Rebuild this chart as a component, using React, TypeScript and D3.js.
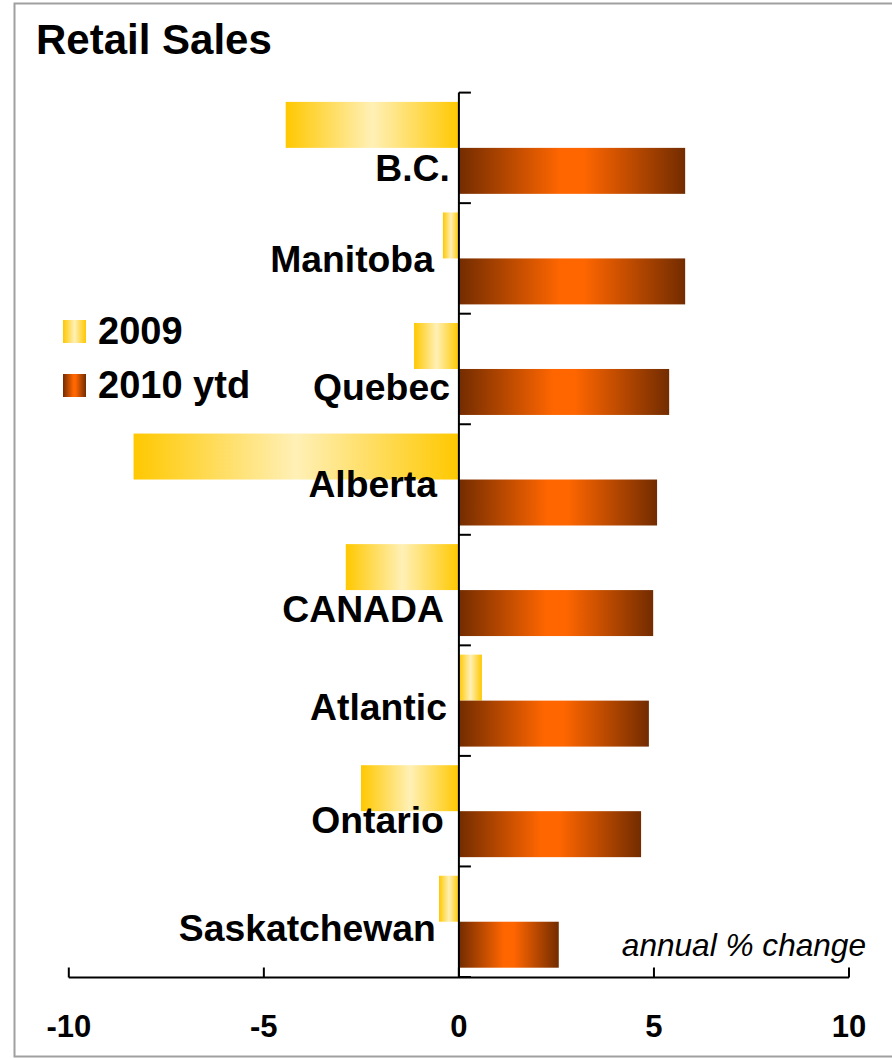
import React from 'react';
import * as d3 from 'd3';

const categories = ['B.C.', 'Manitoba', 'Quebec', 'Alberta', 'CANADA', 'Atlantic', 'Ontario', 'Saskatchewan'];
const seriesNames = ['2009', '2010 ytd'];
const values2009 = [-4.44, -0.41, -1.15, -8.34, -2.9, 0.59, -2.51, -0.51];
const values2010 = [5.8, 5.8, 5.39, 5.08, 4.98, 4.87, 4.67, 2.56];
const xTicks = [-10, -5, 0, 5, 10];

// layout nudges for the hand-placed category labels (dx from axis, dy from band centre)
const labelNudge: [number, number][] = [
  [-9, 33], [-25, 13.5], [-9, 31], [-22, 17], [-15, 32], [-12, 19], [-15, 21.5], [-23, 19],
];

const W = 892;
const H = 1058;
const FONT = '"Liberation Sans", Arial, Helvetica, sans-serif';

export default function App() {
  const x = d3.scaleLinear().domain([-10, 10]).range([68.8, 849]);
  const y = d3.scaleBand<string>().domain(categories).range([92.6, 977]).padding(0);
  const inner = d3.scaleBand<string>().domain(seriesNames).range([9.3, y.bandwidth() - 9.3]).padding(0);
  const x0 = x(0);
  const axisY = 977.5;
  const grads = ['g2009', 'g2010'];
  const rows = categories.map((c, i) => ({ c, i, v: [values2009[i], values2010[i]] }));
  const boundaries = d3.range(categories.length + 1).map((k) => 92.6 + k * y.step());

  return (
    <svg width={W} height={H} style={{ position: 'absolute', left: 0, top: 0, display: 'block', background: '#fff' }} fontFamily={FONT}>
      <defs>
        <linearGradient id="g2009" x1="0" x2="1" y1="0" y2="0">
          <stop offset="0" stopColor="#FFC800" />
          <stop offset="0.5" stopColor="#FFF0B6" />
          <stop offset="1" stopColor="#FFC800" />
        </linearGradient>
        <linearGradient id="g2010" x1="0" x2="1" y1="0" y2="0">
          <stop offset="0" stopColor="#732C00" />
          <stop offset="0.45" stopColor="#FF6600" />
          <stop offset="0.55" stopColor="#FF6600" />
          <stop offset="1" stopColor="#732C00" />
        </linearGradient>
      </defs>
      <rect x={0} y={0} width={W} height={H} fill="#fff" />
      <rect x={14.5} y={3.5} width={W + 20} height={1053} fill="none" stroke="#A0A0A0" strokeWidth={2} />

      <text x={36} y={54} fontSize={42} fontWeight="bold" fill="#000">Retail Sales</text>

      {rows.map((r) =>
        r.v.map((v, s) => {
          const yy = (y(r.c) as number) + (inner(seriesNames[s]) as number);
          return (
            <rect
              key={r.c + s}
              x={Math.min(x(v), x0)}
              y={yy}
              width={Math.abs(x(v) - x0)}
              height={inner.bandwidth()}
              fill={`url(#${grads[s]})`}
            />
          );
        })
      )}

      {/* vertical category axis */}
      <line x1={x0} x2={x0} y1={92.6} y2={axisY} stroke="#000" strokeWidth={2} />
      {boundaries.map((b, k) => (
        <line key={k} x1={x0} x2={x0 + 12} y1={b} y2={b} stroke="#000" strokeWidth={2} />
      ))}

      {/* x axis */}
      <line x1={x(-10)} x2={x(10)} y1={axisY} y2={axisY} stroke="#000" strokeWidth={2} />
      {xTicks.map((t) => (
        <g key={t}>
          <line x1={x(t)} x2={x(t)} y1={axisY} y2={axisY - 10} stroke="#000" strokeWidth={2} />
          <text x={x(t)} y={1037} textAnchor="middle" fontSize={31} fontWeight="bold" fill="#000">{t}</text>
        </g>
      ))}

      <text x={866} y={956} textAnchor="end" fontSize={31.6} fontStyle="italic" fill="#000">annual % change</text>

      {rows.map((r) => (
        <text
          key={'l' + r.c}
          x={x0 + labelNudge[r.i][0]}
          y={(y(r.c) as number) + y.bandwidth() / 2 + labelNudge[r.i][1]}
          textAnchor="end"
          fontSize={37.3}
          fontWeight="bold"
          fill="#000"
        >
          {r.c}
        </text>
      ))}

      {/* legend */}
      {seriesNames.map((s, k) => (
        <g key={s} transform={`translate(63, ${320 + k * 54})`}>
          <rect x={0} y={0} width={23} height={23} fill={`url(#${grads[k]})`} />
          <text x={35} y={24} fontSize={38} fontWeight="bold" fill="#000">{s}</text>
        </g>
      ))}
    </svg>
  );
}
